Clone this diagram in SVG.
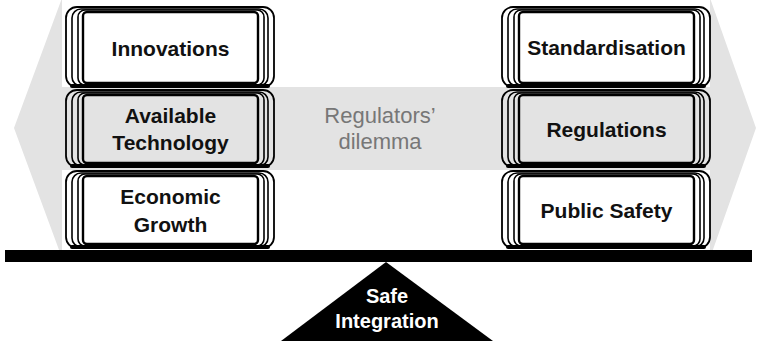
<svg xmlns="http://www.w3.org/2000/svg" width="757" height="341" viewBox="0 0 757 341">
<style>
.bk{stroke:#000;stroke-width:1.6;fill:none}
.b1{stroke:#000;stroke-width:1.8}
.fr{stroke:#000;stroke-width:2.4}
.w{fill:#fff}
.g{fill:#e3e3e3}
.bot{stroke:#000;stroke-width:4;stroke-linecap:round}
.t{font-family:"Liberation Sans",Arial,sans-serif;font-weight:bold;font-size:21px;fill:#111;text-anchor:middle}
.d{font-family:"Liberation Sans",Arial,sans-serif;font-size:22px;fill:#777;text-anchor:middle}
.s{font-family:"Liberation Sans",Arial,sans-serif;font-weight:bold;font-size:20px;fill:#fff;text-anchor:middle}
</style>
<rect width="757" height="341" fill="#fff"/>
<g id="arrow">
<polygon class="g" points="14,128 62,-2 62,87 710,87 710,-2 756,128 710,258 710,170 62,170 62,258"/>
<text class="d" x="380" y="123">Regulators’</text>
<text class="d" x="380" y="149">dilemma</text>
</g>
<g id="innovations" transform="translate(0,7)">
<rect class="b1 w" x="66" y="0" width="208" height="80" rx="11"/>
<rect class="bk" x="72" y="2" width="196" height="77" rx="9"/>
<rect class="bk" x="78" y="3" width="186" height="75" rx="7"/>
<rect class="fr w" x="83" y="5" width="175" height="71" rx="4"/>
<line class="bot" x1="72" y1="79" x2="268" y2="79"/>
<text class="t" x="170.5" y="49">Innovations</text>
</g>
<g id="available-technology" transform="translate(0,90)">
<rect class="b1 g" x="66" y="0" width="208" height="77" rx="11"/>
<rect class="bk" x="72" y="2" width="196" height="74" rx="9"/>
<rect class="bk" x="78" y="3" width="186" height="72" rx="7"/>
<rect class="fr g" x="83" y="5" width="175" height="68" rx="4"/>
<line class="bot" x1="72" y1="76" x2="268" y2="76"/>
<text class="t" x="170.5" y="33">Available</text>
<text class="t" x="170.5" y="60">Technology</text>
</g>
<g id="economic-growth" transform="translate(0,171)">
<rect class="b1 w" x="66" y="0" width="208" height="77" rx="11"/>
<rect class="bk" x="72" y="2" width="196" height="74" rx="9"/>
<rect class="bk" x="78" y="3" width="186" height="72" rx="7"/>
<rect class="fr w" x="83" y="5" width="175" height="68" rx="4"/>
<line class="bot" x1="72" y1="76" x2="268" y2="76"/>
<text class="t" x="170.5" y="33">Economic</text>
<text class="t" x="170.5" y="61">Growth</text>
</g>
<g id="standardisation" transform="translate(436,7)">
<rect class="b1 w" x="66" y="0" width="208" height="80" rx="11"/>
<rect class="bk" x="72" y="2" width="196" height="77" rx="9"/>
<rect class="bk" x="78" y="3" width="186" height="75" rx="7"/>
<rect class="fr w" x="83" y="5" width="175" height="71" rx="4"/>
<line class="bot" x1="72" y1="79" x2="268" y2="79"/>
<text class="t" x="170.5" y="48">Standardisation</text>
</g>
<g id="regulations" transform="translate(436,90)">
<rect class="b1 g" x="66" y="0" width="208" height="77" rx="11"/>
<rect class="bk" x="72" y="2" width="196" height="74" rx="9"/>
<rect class="bk" x="78" y="3" width="186" height="72" rx="7"/>
<rect class="fr g" x="83" y="5" width="175" height="68" rx="4"/>
<line class="bot" x1="72" y1="76" x2="268" y2="76"/>
<text class="t" x="170.5" y="47">Regulations</text>
</g>
<g id="public-safety" transform="translate(436,171)">
<rect class="b1 w" x="66" y="0" width="208" height="77" rx="11"/>
<rect class="bk" x="72" y="2" width="196" height="74" rx="9"/>
<rect class="bk" x="78" y="3" width="186" height="72" rx="7"/>
<rect class="fr w" x="83" y="5" width="175" height="68" rx="4"/>
<line class="bot" x1="72" y1="76" x2="268" y2="76"/>
<text class="t" x="170.5" y="47">Public Safety</text>
</g>
<g id="beam">
<rect x="5" y="250" width="747" height="12" fill="#000"/>
</g>
<g id="safe-integration">
<polygon points="386,262 281,341 493,341" fill="#000"/>
<text class="s" x="387" y="303">Safe</text>
<text class="s" x="387" y="328">Integration</text>
</g>
</svg>
